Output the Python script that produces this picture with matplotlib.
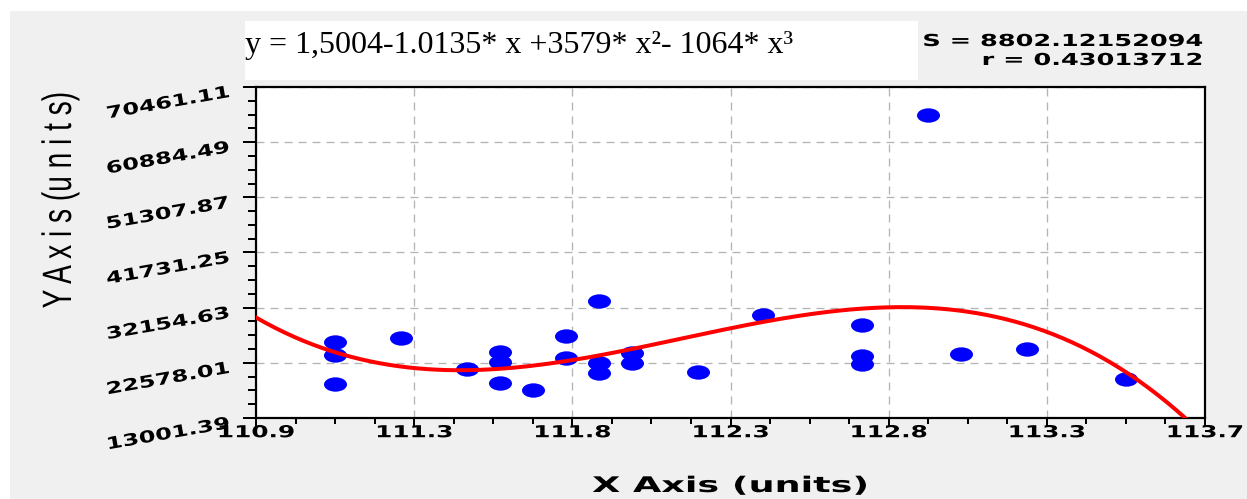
import numpy as np
import matplotlib
matplotlib.use("Agg")
import matplotlib.pyplot as plt
from matplotlib.path import Path
from matplotlib.patches import Rectangle
from matplotlib.patheffects import AbstractPathEffect
from matplotlib.ticker import AutoMinorLocator
from matplotlib.transforms import Affine2D, ScaledTranslation

# measured samples
x_vals = [111.1, 111.1, 111.1, 111.3, 111.5, 111.6, 111.6, 111.6, 111.7,
          111.8, 111.8, 111.9, 111.9, 111.9, 112.0, 112.0, 112.2, 112.4,
          112.7, 112.7, 112.7, 112.9, 113.0, 113.2, 113.5]
y_vals = [26194, 23938, 18904, 26889, 21507, 24459, 22723, 19077, 17790,
          27236, 23417, 33312, 22549, 20813, 24285, 22549, 20986, 30881,
          29145, 23764, 22375, 65673, 24111, 24979, 19772]

x_range = (110.86, 113.74)
y_range = (13001.39, 70461.11)
x_ticklabels = ["110.9", "111.3", "111.8", "112.3", "112.8", "113.3", "113.7"]
y_ticklabels = ["13001.39", "22578.01", "32154.63", "41731.25",
                "51307.87", "60884.49", "70461.11"]

equation = "y = 1,5004-1.0135* x +3579* x\u00b2- 1064* x\u00b3"
stat_s = "S = 8802.12152094"
stat_r = "r = 0.43013712"
x_title = "X Axis (units)"
y_title = "Y A x i s (u n i t s)"

W, H = 1247, 499
DPI = 100


def px2pt(p):
    return p * 72.0 / DPI


class Stretch(AbstractPathEffect):
    """Scale glyphs along the baseline around a pivot (0 left, 0.5 centre, 1 right)."""

    def __init__(self, sx, pivot=0.5):
        super().__init__()
        self.sx = sx
        self.pivot = pivot

    def draw_path(self, renderer, gc, tpath, affine, rgbFace=None):
        ext = tpath.get_extents()
        p = ext.x0 + self.pivot * ext.width
        local = Affine2D().translate(-p, 0).scale(self.sx, 1).translate(p, 0)
        renderer.draw_path(gc, tpath, local + affine, rgbFace)


def fx(p):
    return p / W


def fy(p):
    return 1 - p / H


plt.rcParams['lines.scale_dashes'] = False
fig = plt.figure(figsize=(W / DPI, H / DPI), dpi=DPI)
fig.patch.set_facecolor('white')

# grey panel behind everything
fig.patches.append(Rectangle((fx(10), 0), 1 - fx(10), fy(11), transform=fig.transFigure,
                             facecolor='#f0f0f0', edgecolor='none', zorder=-1))

ax = fig.add_axes([fx(256), fy(418), 949 / W, 331 / H])
ax.set_facecolor('white')
ax.set_xlim(*x_range)
ax.set_ylim(*y_range)

for sp in ax.spines.values():
    sp.set_linewidth(px2pt(2.2))
    sp.set_color('black')

ax.set_xticks(np.linspace(x_range[0], x_range[1], 7))
ax.set_yticks(np.linspace(y_range[0], y_range[1], 7))
ax.xaxis.set_minor_locator(AutoMinorLocator(4))
ax.yaxis.set_minor_locator(AutoMinorLocator(4))
ax.tick_params(axis='x', which='major', direction='out', length=px2pt(8), width=px2pt(2), pad=-2)
ax.tick_params(axis='x', which='minor', direction='out', length=px2pt(6), width=px2pt(2))
ax.tick_params(axis='y', which='major', direction='out', length=px2pt(13), width=px2pt(2))
ax.tick_params(axis='y', which='minor', direction='out', length=px2pt(8), width=px2pt(2))

tick_font = dict(family='DejaVu Sans', weight='bold', size=px2pt(16.5))
ax.set_xticklabels(x_ticklabels, **tick_font)
for lbl in ax.get_xticklabels():
    lbl.set_path_effects([Stretch(1.5, 0.5)])

ax.set_yticklabels([])
ylab_tr = ax.get_yaxis_transform() + ScaledTranslation(-27 / DPI, -5 / DPI, fig.dpi_scale_trans)
for val, txt in zip(np.linspace(y_range[0], y_range[1], 7), y_ticklabels):
    ax.text(0, val, txt, transform=ylab_tr, ha='right', va='center', rotation=10,
            rotation_mode='anchor', path_effects=[Stretch(1.45, 1.0)], clip_on=False,
            **tick_font)

ax.grid(True, which='major', color='#b4b4b4', linewidth=px2pt(1.3), linestyle=(0, (px2pt(8), px2pt(6))))
ax.set_axisbelow(True)

# cubic least-squares fit through the samples
coeffs = np.polyfit(x_vals, y_vals, 3)
xs = np.linspace(x_range[0], x_range[1], 400)
ax.plot(xs, np.polyval(coeffs, xs), color='#ff0000', linewidth=px2pt(4), zorder=3)

ellipse = Path.unit_circle().transformed(Affine2D().scale(1.6, 1.0))
ax.scatter(x_vals, y_vals, marker=ellipse, s=px2pt(23) ** 2, color='#0000ff',
           linewidths=0, zorder=2)

# axis titles
fig.text(fx(730), fy(492), x_title, ha='center', va='baseline', weight='bold',
         size=px2pt(21.5), path_effects=[Stretch(1.7, 0.5)])
fig.text(fx(60), fy(200), y_title, ha='center', va='center', rotation=90,
         family='Liberation Sans', size=px2pt(41), path_effects=[Stretch(0.685, 0.5)])

# fit statistics, partly hidden by the equation box
fig.text(fx(1202), fy(46), stat_s, ha='right', va='baseline', zorder=2, path_effects=[Stretch(1.55, 1.0)],
         **tick_font)
fig.text(fx(1202), fy(65), stat_r, ha='right', va='baseline', zorder=2, path_effects=[Stretch(1.55, 1.0)],
         **tick_font)
fig.patches.append(Rectangle((fx(245), fy(80)), (918 - 245) / W, (80 - 21) / H,
                             transform=fig.transFigure, facecolor='white', edgecolor='none', zorder=2.5))
fig.text(fx(245), fy(53), equation, ha='left', va='baseline', family='Liberation Serif',
         size=px2pt(32), zorder=4)

fig.savefig('out.png', dpi=DPI)
